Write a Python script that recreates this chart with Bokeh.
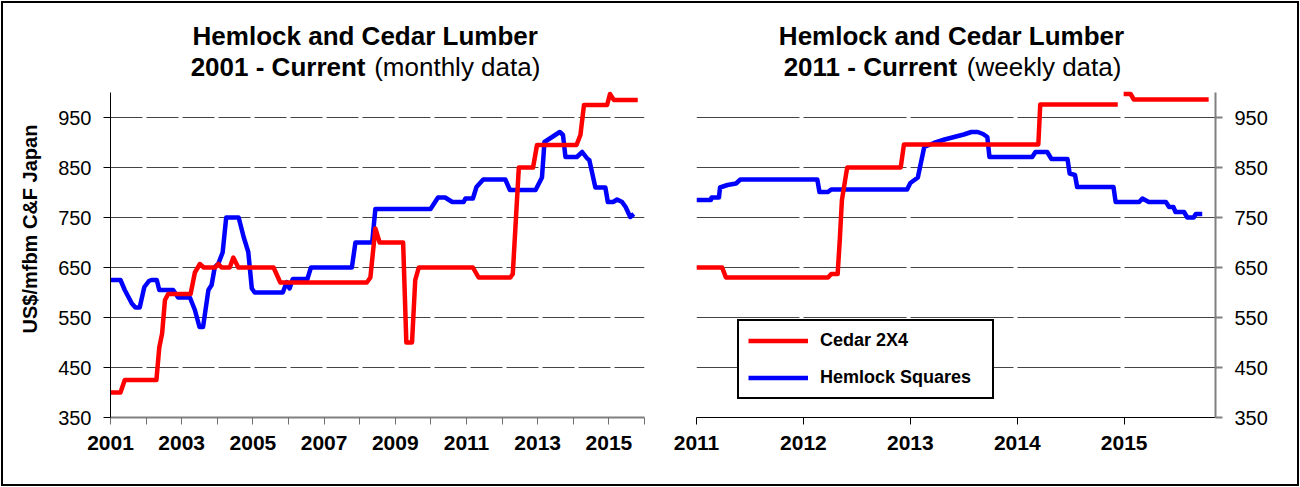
import math
from bokeh.plotting import figure
from bokeh.models import FixedTicker, Label, Legend, LegendItem, Range1d, Title
from bokeh.layouts import row
from bokeh.embed import file_html
from bokeh.resources import INLINE

FONT = "Liberation Sans"
NAN = float("nan")

# ---------------- data ----------------
# monthly series, 2001 - current (decimal years)
cedar_monthly_year = [2001.0, 2001.28, 2001.4, 2002.29, 2002.37, 2002.45, 2002.53, 2002.62, 2003.25,
                      2003.37, 2003.51, 2003.62, 2003.94, 2004.03, 2004.12, 2004.35, 2004.45, 2004.59,
                      2005.58, 2005.77, 2008.2, 2008.3, 2008.44, 2008.56, 2009.22, 2009.31, 2009.47,
                      2009.56, 2009.66, 2011.18, 2011.34, 2012.23, 2012.3, 2012.47, 2012.87, 2012.98,
                      2014.09, 2014.2, 2014.3, 2014.95, 2015.03, 2015.14, 2015.81]
cedar_monthly_price = [400, 400, 425, 425, 490, 518, 585, 597, 597,
                       640, 657, 650, 650, 657, 650, 650, 670, 650,
                       650, 620, 620, 630, 728, 700, 700, 500, 500,
                       625, 650, 650, 630, 630, 637, 850, 850, 895,
                       895, 915, 975, 975, 997, 985, 985]

hemlock_monthly_year = [2001.0, 2001.28, 2001.4, 2001.6, 2001.7, 2001.82, 2001.95, 2002.08, 2002.15,
                        2002.3, 2002.37, 2002.76, 2002.9, 2003.23, 2003.37, 2003.5, 2003.6, 2003.75,
                        2003.84, 2003.93, 2004.03, 2004.15, 2004.25, 2004.6, 2004.74, 2004.87, 2004.97,
                        2005.05, 2005.84, 2005.95, 2006.03, 2006.12, 2006.53, 2006.63, 2007.78, 2007.88,
                        2008.35, 2008.44, 2009.99, 2010.2, 2010.4, 2010.6, 2010.92, 2010.97, 2011.18,
                        2011.28, 2011.47, 2012.09, 2012.22, 2012.94, 2013.12, 2013.19, 2013.62, 2013.71,
                        2013.78, 2014.1, 2014.25, 2014.39, 2014.45, 2014.62, 2014.9, 2014.97, 2015.12,
                        2015.23, 2015.37, 2015.47, 2015.6, 2015.7]
hemlock_monthly_price = [625, 625, 605, 578, 570, 570, 611, 623, 625,
                         625, 605, 605, 590, 590, 565, 531, 531, 605,
                         615, 651, 658, 680, 750, 750, 711, 681, 608,
                         600, 600, 621, 608, 627, 627, 650, 650, 700,
                         700, 767, 767, 790, 790, 781, 781, 788, 788,
                         811, 826, 826, 805, 805, 830, 901, 921, 915,
                         871, 871, 881, 868, 865, 810, 810, 781, 781,
                         786, 781, 771, 751, 757]

# weekly series, 2011 - current (decimal years; NaN marks the gap in the cedar series)
cedar_weekly_year = [2011.0, 2011.24, 2011.275, 2012.23, 2012.26, 2012.32, 2012.34, 2012.36, 2012.40,
                     2012.41, 2012.91, 2012.94, 2014.197, 2014.215, 2014.94, NAN, 2014.995, 2015.06,
                     2015.09, 2015.79]
cedar_weekly_price = [650, 650, 630, 630, 637, 637, 705, 785, 838,
                      850, 850, 896, 896, 976, 976, NAN, 997, 997,
                      986, 986]

hemlock_weekly_year = [2011.0, 2011.135, 2011.14, 2011.21, 2011.22, 2011.29, 2011.37, 2011.41, 2012.13,
                       2012.15, 2012.23, 2012.26, 2012.97, 2013.0, 2013.07, 2013.13, 2013.22, 2013.32,
                       2013.41, 2013.50, 2013.57, 2013.63, 2013.68, 2013.72, 2013.74, 2014.14, 2014.17,
                       2014.28, 2014.32, 2014.47, 2014.49, 2014.54, 2014.56, 2014.90, 2014.92, 2015.14,
                       2015.17, 2015.23, 2015.39, 2015.42, 2015.46, 2015.48, 2015.56, 2015.59, 2015.65,
                       2015.67, 2015.73]
hemlock_weekly_price = [785, 785, 790, 790, 810, 815, 818, 826, 826,
                        801, 801, 806, 806, 819, 830, 891, 899, 906,
                        911, 916, 921, 921, 917, 911, 871, 871, 881,
                        881, 867, 867, 838, 835, 811, 811, 781, 781,
                        788, 781, 781, 771, 771, 761, 761, 750, 750,
                        757, 757]

price_ticks = [350, 450, 550, 650, 750, 850, 950]
grid_ticks = [450, 550, 650, 750, 850, 950]
price_axis_span = (350, 1000)
left_year_ticks = [2001, 2002, 2003, 2004, 2005, 2006, 2007, 2008, 2009, 2010, 2011, 2012, 2013,
                   2014, 2015, 2016]
left_year_labels = ["2001", "", "2003", "", "2005", "", "2007", "", "2009", "", "2011", "", "2013",
                    "", "2015", ""]
right_year_ticks = [2011, 2012, 2013, 2014, 2015]

series_names = ["Cedar 2X4", "Hemlock Squares"]
y_axis_title = "US$/mfbm C&F Japan"
RED = "#FF0000"
BLUE = "#0000FF"
LW = 4.5


def make_fig(width, x_range, border_left, border_right, y_loc):
    # the frame reaches the top of the canvas so the titles can be drawn inside it;
    # the price axis itself is bounded to 350..1000
    p = figure(width=width, height=487, x_range=x_range, y_range=Range1d(350, 1184),
               output_backend="svg", toolbar_location=None, y_axis_location=y_loc,
               min_border_left=border_left, min_border_right=border_right,
               min_border_top=0, min_border_bottom=70)
    p.outline_line_color = None
    p.background_fill_color = None
    p.border_fill_color = None
    p.xgrid.visible = False
    p.ygrid.ticker = FixedTicker(ticks=grid_ticks)
    p.ygrid.grid_line_color = "#454545"
    p.ygrid.grid_line_width = 1
    for ax in p.axis:
        ax.major_tick_in = 0
        ax.major_tick_out = 7
        ax.minor_tick_line_color = None
        ax.major_label_text_font = FONT
        ax.major_label_text_color = "black"
    p.yaxis.ticker = FixedTicker(ticks=price_ticks)
    p.yaxis.bounds = price_axis_span
    p.yaxis.major_label_text_font_size = "20px"
    p.yaxis.major_label_standoff = 12
    p.xaxis.major_label_text_font_size = "21px"
    p.xaxis.major_label_text_font_style = "bold"
    p.xaxis.major_label_standoff = 11
    return p


title_kw = dict(text_font=FONT, text_font_size="26px", text_color="black", text_baseline="alphabetic")


def add_titles(p, x_center, x_split_right, x_split_left, period_text, kind_text):
    p.add_layout(Label(x=x_center, y=1113, text="Hemlock and Cedar Lumber", text_align="center",
                       text_font_style="bold", **title_kw))
    p.add_layout(Label(x=x_split_right, y=1051, text=period_text, text_align="right",
                       text_font_style="bold", **title_kw))
    p.add_layout(Label(x=x_split_left, y=1051, text=kind_text, text_align="left",
                       text_font_style="normal", **title_kw))


# ---------------- left chart: monthly ----------------
p1 = make_fig(650, Range1d(2001, 2016), 110, 6, "left")
p1.ygrid.grid_line_dash = "32 4"
p1.xaxis.ticker = FixedTicker(ticks=left_year_ticks)
p1.xaxis.major_label_overrides = {t: l for t, l in zip(left_year_ticks, left_year_labels)}
p1.xaxis.axis_line_color = "#808080"
p1.xaxis.axis_line_width = 2
p1.xaxis.major_tick_line_color = "#707070"
p1.yaxis.axis_line_color = "black"
p1.yaxis.axis_line_width = 1
p1.yaxis.major_tick_line_color = "black"

p1.line(hemlock_monthly_year, hemlock_monthly_price, line_color=BLUE, line_width=LW, line_join="round")
p1.line(cedar_monthly_year, cedar_monthly_price, line_color=RED, line_width=LW, line_join="round")
add_titles(p1, 2008.155, 2008.163, 2008.407, "2001 - Current", "(monthly data)")

p1.add_layout(Title(text=y_axis_title, align="left", offset=84, standoff=30,
                    text_font=FONT, text_font_size="20px", text_font_style="bold",
                    text_color="black"), "left")

# ---------------- right chart: weekly ----------------
p2 = make_fig(650, Range1d(2011, 2015.854), 46, 85, "right")
p2.ygrid.grid_line_dash = "103 4"
p2.xaxis.ticker = FixedTicker(ticks=right_year_ticks)
p2.xaxis.axis_line_color = "black"
p2.xaxis.axis_line_width = 1
p2.xaxis.major_tick_line_color = "black"
p2.yaxis.axis_line_color = "#808080"
p2.yaxis.axis_line_width = 2
p2.yaxis.major_tick_line_color = "#808080"
p2.yaxis.major_tick_line_width = 2

rh = p2.line(hemlock_weekly_year, hemlock_weekly_price, line_color=BLUE, line_width=LW, line_join="round")
rc = p2.line(cedar_weekly_year, cedar_weekly_price, line_color=RED, line_width=LW, line_join="round")
add_titles(p2, 2013.385, 2013.437, 2013.528, "2011 - Current", "(weekly data)")

legend = Legend(items=[LegendItem(label=series_names[0], renderers=[rc]),
                       LegendItem(label=series_names[1], renderers=[rh])],
                location=(41, 18), border_line_color="black", border_line_width=2,
                border_line_alpha=1.0,
                background_fill_color="white", background_fill_alpha=1.0,
                label_text_font=FONT, label_text_font_style="bold", label_text_font_size="18px",
                label_text_color="black",
                glyph_width=60, glyph_height=19, label_height=19, label_standoff=12,
                label_width=163, padding=9, spacing=16, margin=0)
p2.add_layout(legend)

layout = row(p1, p2, styles={"outline": "2px solid black", "outline-offset": "-3px",
                             "background-color": "white"})

open("out.html", "w").write(file_html(layout, INLINE))
